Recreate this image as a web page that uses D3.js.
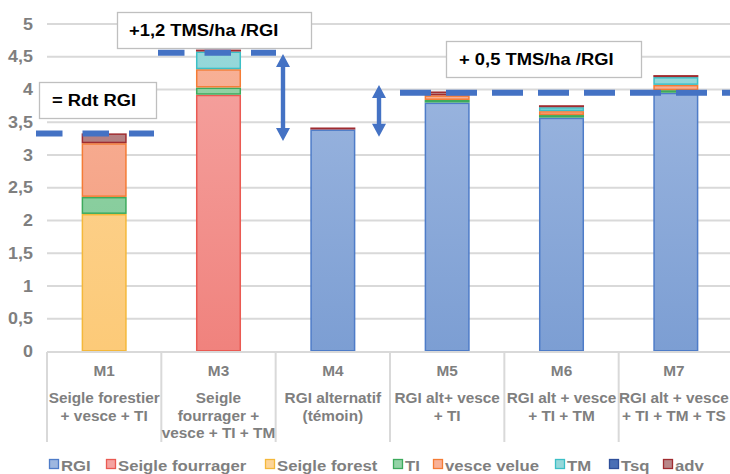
<!DOCTYPE html>
<html><head><meta charset="utf-8">
<script src="https://cdn.jsdelivr.net/npm/d3@7"></script>
<style>body{margin:0;background:#fff}svg{display:block;font-family:"Liberation Sans",Arial,sans-serif}</style>
</head><body><svg id="c" width="730" height="474"></svg>
<script>
const categories = ["M1","M3","M4","M5","M6","M7"];
const catLines = [
  ["Seigle forestier","+ vesce + TI"],
  ["Seigle","fourrager +","vesce + TI + TM"],
  ["RGI alternatif","(témoin)"],
  ["RGI alt+ vesce","+ TI"],
  ["RGI alt + vesce","+ TI + TM"],
  ["RGI alt + vesce","+ TI + TM + TS"]
];
const seriesNames = ["RGI","Seigle fourrager","Seigle forest","TI","vesce velue","TM","Tsq","adv"];
const RGI            = [0,    0,    3.39, 3.80, 3.57, 3.95];
const seigleFourrager= [0,    3.92, 0,    0,    0,    0   ];
const seigleForest   = [2.10, 0,    0,    0,    0,    0   ];
const TI             = [0.26, 0.11, 0,    0.04, 0.04, 0.04];
const vesceVelue     = [0.82, 0.28, 0,    0.07, 0.06, 0.08];
const TM             = [0,    0.27, 0,    0,    0.06, 0.12];
const Tsq            = [0,    0,    0,    0,    0,    0   ];
const adv            = [0.15, 0.03, 0.03, 0.06, 0.03, 0.03];
const yTicks = [0,0.5,1,1.5,2,2.5,3,3.5,4,4.5,5];
const refLevels = [3.33, 4.56, 3.95];
const annotations = ["= Rdt RGI","+1,2 TMS/ha /RGI","+ 0,5 TMS/ha /RGI"];

const seriesValues = [RGI,seigleFourrager,seigleForest,TI,vesceVelue,TM,Tsq,adv];
const fillsTop =  ["#9db7e0","#f5a3a0","#fdd497","#93d3a6","#f8b197","#95d8da","#4a6fb5","#b98789"];
const fillsBot =  ["#7c9ed3","#f0827d","#fcca78","#7fc996","#f39a7b","#7ccfd1","#3a5ea8","#a86d6f"];
const strokes =   ["#4e7cc8","#ea5a52","#f4b83a","#3daa5c","#f47c35","#3cbfc6","#2e4f9a","#a02c30"];

const SX = 1.08; // horizontal stretch of text in reference
const svg = d3.select("#c");
const x = d3.scaleBand().domain(categories).range([47,733]);
const y = d3.scaleLinear().domain([0,5]).range([351.5,24]);
const gray = "#7f7f7f";

function txt(sel, tx, ty, s, sx){
  return sel.append("text").attr("transform",`translate(${tx},${ty}) scale(${sx||SX},1)`).text(s);
}

const defs = svg.append("defs");
seriesNames.forEach((n,i)=>{
  const g = defs.append("linearGradient").attr("id","gu"+i).attr("gradientUnits","userSpaceOnUse")
    .attr("x1",0).attr("y1",y(4.6)).attr("x2",0).attr("y2",y(0));
  g.append("stop").attr("offset","0").attr("stop-color",fillsTop[i]);
  g.append("stop").attr("offset","1").attr("stop-color",fillsBot[i]);
});

// gridlines
svg.append("g").selectAll("line").data(yTicks.filter(t=>t>0)).join("line")
  .attr("x1",47).attr("x2",730).attr("y1",d=>y(d)).attr("y2",d=>y(d))
  .attr("stroke","#d9d9d9").attr("stroke-width",2);

// y labels
const yl = svg.append("g").attr("text-anchor","end").attr("font-size",16).attr("font-weight","bold").attr("fill",gray);
yTicks.forEach(d=>txt(yl,33,y(d)+5.5,String(d).replace(".",","),1.12));

// stacked bars
const table = categories.map((c,ci)=>{const o={cat:c}; seriesNames.forEach((s,si)=>o[s]=seriesValues[si][ci]); return o;});
const stack = d3.stack().keys(seriesNames)(table);
const bw = x.bandwidth()*0.394;
stack.forEach((layer,si)=>{
  svg.append("g").selectAll("rect").data(layer.filter(d=>d[1]-d[0]>0)).join("rect")
    .attr("x",d=>x(d.data.cat)+x.bandwidth()/2-bw/2+0.75)
    .attr("width",bw-1.5)
    .attr("y",d=>y(d[1])+0.75)
    .attr("height",d=>Math.max(0.5,y(d[0])-y(d[1])-1.5))
    .attr("fill","url(#gu"+si+")")
    .attr("stroke",strokes[si]).attr("stroke-width",1.5);
});

// axis line and category dividers
svg.append("line").attr("x1",47).attr("x2",730).attr("y1",352).attr("y2",352).attr("stroke","#d9d9d9").attr("stroke-width",2);
const divs = categories.map(c=>x(c)).concat([x.range()[1]]);
svg.append("g").selectAll("line").data(divs).join("line")
  .attr("x1",d=>d).attr("x2",d=>d).attr("y1",352).attr("y2",442)
  .attr("stroke","#d9d9d9").attr("stroke-width",2);

// category labels
const cl = svg.append("g").attr("font-weight","bold").attr("fill",gray).attr("text-anchor","middle").attr("font-size",14.5);
categories.forEach((c,i)=>{
  const cx = x(c)+x.bandwidth()/2 - (i===categories.length-1 ? 2 : 0);
  txt(cl,cx,376,c,1.06);
  catLines[i].forEach((t,j)=>txt(cl,cx,403+j*17.5,t,1.06));
});

// reference dashed lines
const blue = "#4472c4";
function dashed(v,x1,x2,dash,gap){
  svg.append("line").attr("x1",x1).attr("x2",x2).attr("y1",y(v)).attr("y2",y(v))
    .attr("stroke",blue).attr("stroke-width",6).attr("stroke-dasharray",dash+" "+gap);
}
dashed(refLevels[0],36,154,26.5,20);
dashed(refLevels[1],158,276,26.5,20);
dashed(refLevels[2],400,740,31,15);

// double arrows
function darrow(cx,y1,y2){
  const hw=7, hl=13, sw=2.2;
  const p = `M${cx},${y1} L${cx+hw},${y1+hl} L${cx+sw},${y1+hl} L${cx+sw},${y2-hl} L${cx+hw},${y2-hl} L${cx},${y2} L${cx-hw},${y2-hl} L${cx-sw},${y2-hl} L${cx-sw},${y1+hl} L${cx-hw},${y1+hl} Z`;
  svg.append("path").attr("d",p).attr("fill",blue);
}
darrow(283, y(4.55)+0.5, y(3.42)+13.5);
darrow(379, y(4.07), y(3.28));

// annotation boxes
const boxes = [[39,82,117,36,52,106],[117,12,194,36,129,36],[446,41,195,36,459,65]];
boxes.forEach((b,i)=>{
  svg.append("rect").attr("x",b[0]+0.5).attr("y",b[1]+0.5).attr("width",b[2]).attr("height",b[3])
    .attr("fill","#fff").attr("stroke","#bfbfbf").attr("stroke-width",1.3);
  txt(svg,b[4],b[5],annotations[i]).attr("font-size",17).attr("font-weight","bold").attr("fill","#000");
});

// legend
const legX = [49,106,265,393,433,555,609,663];
const lg = svg.append("g").attr("font-size",15.5).attr("font-weight","bold").attr("fill",gray);
seriesNames.forEach((n,i)=>{
  lg.append("rect").attr("x",legX[i]+0.5).attr("y",459.5).attr("width",9).attr("height",9)
    .attr("fill",fillsTop[i]).attr("stroke",strokes[i]).attr("stroke-width",1.3);
  txt(lg,legX[i]+12,470.5,n);
});
</script></body></html>
